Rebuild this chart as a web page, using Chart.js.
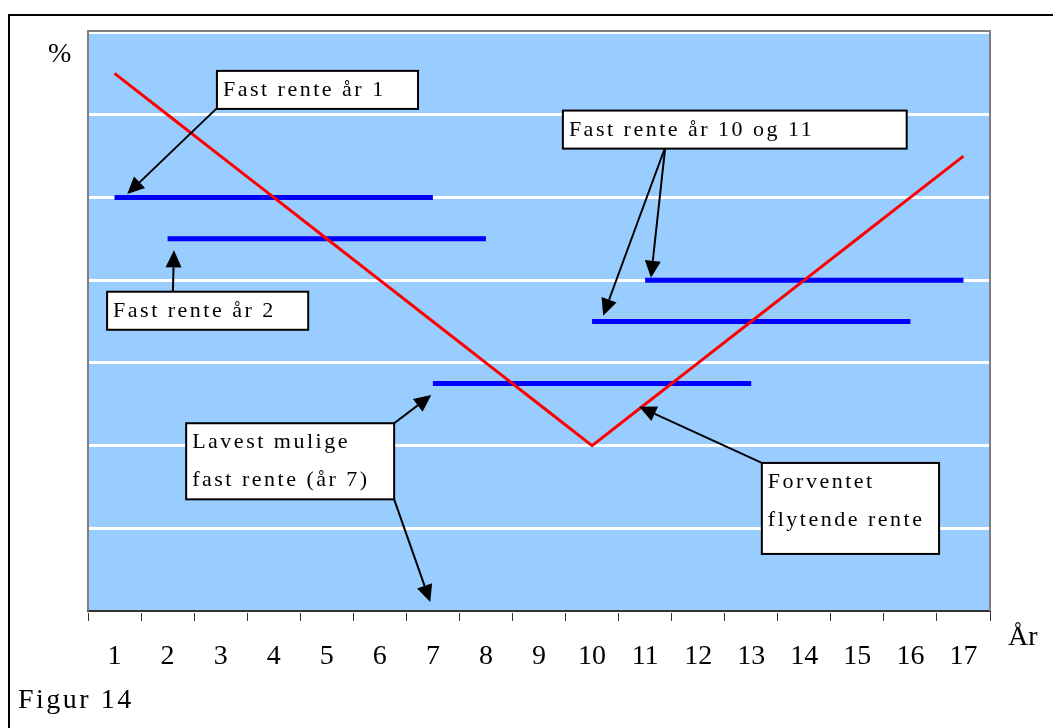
<!DOCTYPE html>
<html>
<head>
<meta charset="utf-8">
<script src="https://cdn.jsdelivr.net/npm/chart.js@4"></script>
<style>
  html, body { margin: 0; padding: 0; background: #fff; }
  canvas { display: block; }
</style>
</head>
<body>
<canvas id="rente" width="1053" height="728"></canvas>
<script>
// years on the x axis
const years = ['1', '2', '3', '4', '5', '6', '7', '8', '9', '10', '11', '12', '13', '14', '15', '16', '17'];

// expected floating rate (red line), %
const floatingRate = [6.5, 6.0, 5.5, 5.0, 4.5, 4.0, 3.5, 3.0, 2.5, 2.0, 2.5, 3.0, 3.5, 4.0, 4.5, 5.0, 5.5];

// fixed rates (blue lines): start year, end year, level
const fixedStart = [1, 2, 7, 10, 11];
const fixedEnd = [7, 8, 13, 16, 17];
const fixedRate = [5.0, 4.5, 2.75, 3.5, 4.0];

const serif = '"Liberation Serif", "Times New Roman", serif';

// text boxes, in year / % units: [left, top, right, bottom]
const notes = [
  { lines: ['Fast rente år 1'], box: [2.93, 6.53, 6.72, 6.07],
    arrows: [[2.93, 6.08, 1.24, 5.04]] },
  { lines: ['Fast rente år 2'], box: [0.86, 3.86, 4.65, 3.40],
    arrows: [[2.10, 3.86, 2.12, 4.36]] },
  { lines: ['Fast rente år 10 og 11'], box: [9.45, 6.05, 15.93, 5.59],
    arrows: [[11.38, 5.61, 11.11, 4.03], [11.38, 5.61, 10.21, 3.57]] },
  { lines: ['Lavest mulige', 'fast rente (år 7)'], box: [2.35, 2.27, 6.27, 1.35],
    arrows: [[6.27, 2.27, 6.97, 2.61], [6.27, 1.35, 6.95, 0.11]] },
  { lines: ['Forventet', 'flytende rente'], box: [13.20, 1.79, 16.54, 0.69],
    arrows: [[13.20, 1.79, 10.89, 2.47]] }
];

function drawArrow(ctx, x1, y1, x2, y2) {
  const a = Math.atan2(y2 - y1, x2 - x1);
  const len = 17, half = 8;
  const bx = x2 - len * Math.cos(a), by = y2 - len * Math.sin(a);
  ctx.beginPath();
  ctx.moveTo(x1, y1);
  ctx.lineTo(bx, by);
  ctx.stroke();
  ctx.beginPath();
  ctx.moveTo(x2, y2);
  ctx.lineTo(bx + half * Math.sin(a), by - half * Math.cos(a));
  ctx.lineTo(bx - half * Math.sin(a), by + half * Math.cos(a));
  ctx.closePath();
  ctx.fill();
}

const decor = {
  id: 'decor',
  beforeDraw(chart) {
    const { ctx, chartArea: ca } = chart;
    ctx.save();
    ctx.strokeStyle = '#000';
    ctx.lineWidth = 2;
    ctx.strokeRect(9, 15, 2000, 2000);
    ctx.fillStyle = '#99CCFF';
    ctx.fillRect(ca.left, ca.top, ca.right - ca.left, ca.bottom - ca.top);
    ctx.restore();
  },
  beforeDatasetsDraw(chart) {
    const { ctx, chartArea: ca } = chart;
    ctx.save();
    ctx.strokeStyle = '#808080';
    ctx.lineWidth = 2;
    ctx.beginPath();
    ctx.moveTo(ca.left, ca.bottom);
    ctx.lineTo(ca.left, ca.top - 1);
    ctx.lineTo(ca.right, ca.top - 1);
    ctx.lineTo(ca.right, ca.bottom);
    ctx.stroke();
    ctx.restore();
  },
  afterDatasetsDraw(chart) {
    const { ctx, scales: { x, y } } = chart;
    const px = yr => x.getPixelForValue(yr - 1);
    const py = v => y.getPixelForValue(v);
    ctx.save();
    ctx.lineWidth = 2;
    ctx.strokeStyle = '#000';
    ctx.fillStyle = '#000';
    notes.forEach(n => {
      n.arrows.forEach(a => drawArrow(ctx, px(a[0]), py(a[1]), px(a[2]), py(a[3])));
    });
    ctx.font = '22px ' + serif;
    ctx.letterSpacing = '2.5px';
    ctx.textBaseline = 'alphabetic';
    notes.forEach(n => {
      const l = px(n.box[0]), t = py(n.box[1]);
      const r = px(n.box[2]), b = py(n.box[3]);
      ctx.fillStyle = '#fff';
      ctx.fillRect(l, t, r - l, b - t);
      ctx.strokeStyle = '#000';
      ctx.strokeRect(l, t, r - l, b - t);
      ctx.fillStyle = '#000';
      n.lines.forEach((s, i) => ctx.fillText(s, l + 6, t + 25 + i * 38));
    });
    ctx.restore();
  },
  afterDraw(chart) {
    const { ctx } = chart;
    ctx.save();
    ctx.fillStyle = '#000';
    ctx.font = '28px ' + serif;
    ctx.textBaseline = 'alphabetic';
    ctx.fillText('%', 48, 62);
    ctx.fillText('År', 1008, 645);
    ctx.letterSpacing = '2.5px';
    ctx.fillText('Figur 14', 18, 708);
    ctx.restore();
  }
};

const fixedSets = fixedRate.map((v, i) => ({
  data: [{ x: String(fixedStart[i]), y: v }, { x: String(fixedEnd[i]), y: v }],
  borderColor: '#0000FF',
  borderWidth: 5,
  borderCapStyle: 'butt',
  pointRadius: 0
}));

new Chart(document.getElementById('rente'), {
  type: 'line',
  data: {
    labels: years,
    datasets: [
      {
        data: floatingRate,
        borderColor: '#FF0000',
        borderWidth: 3,
        pointRadius: 0,
        tension: 0
      },
      ...fixedSets
    ]
  },
  options: {
    responsive: false,
    animation: false,
    layout: { padding: { left: 88, top: 32, right: 63, bottom: 0 } },
    plugins: { legend: { display: false }, tooltip: { enabled: false } },
    scales: {
      x: {
        offset: true,
        afterFit: s => { s.height = 117; },
        grid: { offset: true, drawOnChartArea: false, drawTicks: true, tickLength: 10, tickColor: '#333', tickWidth: 1 },
        border: { display: true, color: '#333', width: 2 },
        ticks: { color: '#000', font: { family: serif, size: 28 }, padding: 19, maxRotation: 0, autoSkip: false }
      },
      y: {
        min: 0,
        max: 7,
        afterFit: s => { s.width = 0; },
        ticks: { display: false, stepSize: 1 },
        grid: { color: '#fff', lineWidth: 3, drawTicks: false },
        border: { display: false }
      }
    }
  },
  plugins: [decor]
});
</script>
</body>
</html>
